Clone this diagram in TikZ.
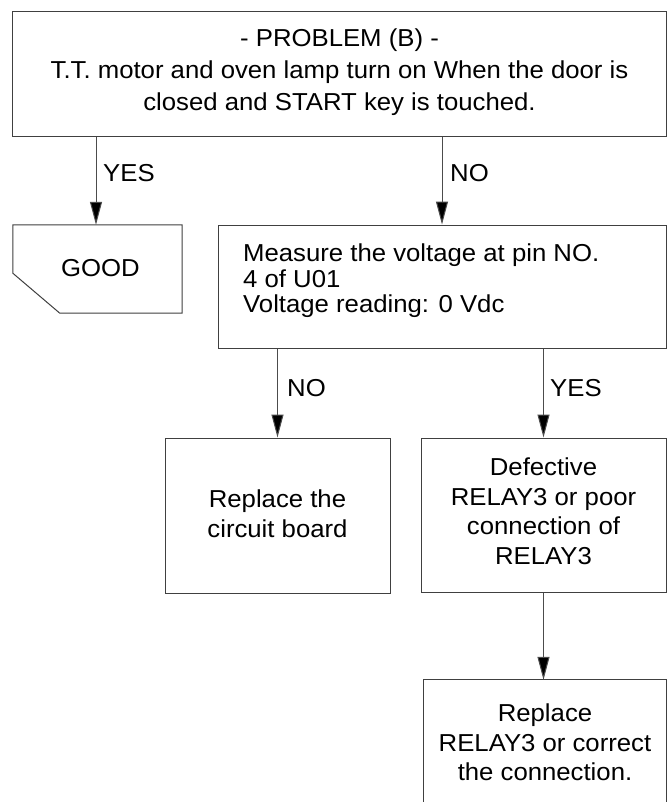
\documentclass[tikz,border=0pt]{standalone}
\usepackage{fontspec}
\setmainfont[FakeStretch=1.05]{Liberation Sans}
\usetikzlibrary{arrows.meta}
\begin{document}
\begin{tikzpicture}[x=1bp,y=-1bp,
  box/.style={draw=black!75, line width=1bp, inner sep=0pt, rectangle},
  frame/.style={inner sep=0pt, rectangle},
  txt/.style={inner sep=0pt, font=\fontsize{24.5bp}{29.5bp}\selectfont, align=center},
  lbl/.style={inner sep=0pt, font=\fontsize{24.5bp}{29.5bp}\selectfont},
  arr/.style={draw=black!70, line width=1bp, -{Triangle[length=23bp,width=12bp,fill=black]}}
]
\useasboundingbox[fill=white] (0,0) rectangle (667,802);

% boxes
\node[box, minimum width=653bp, minimum height=124bp] (top) at (339.5,74) {};
\node[frame, minimum width=169bp, minimum height=88bp] (good) at (97.5,269) {};
\node[box, minimum width=448bp, minimum height=123bp] (meas) at (442,286.5) {};
\node[box, minimum width=225bp, minimum height=155bp] (rcb) at (277.5,515.5) {};
\node[box, minimum width=245bp, minimum height=154bp] (def) at (543.5,515) {};
\node[frame, minimum width=242bp, minimum height=125bp] (fin) at (545,742.5) {};

% GOOD shape (cut corner)
\draw[draw=black!75, line width=1bp] (good.north west) -- (good.north east) -- (good.south east)
  -- ([xshift=47bp]good.south west) -- ([yshift=40bp]good.south west) -- cycle;
% final box open at the bottom
\draw[draw=black!75, line width=1bp] (fin.south west) |- (fin.north east) -- (fin.south east);

% texts
\node[txt, anchor=north, font=\fontsize{24.5bp}{32bp}\selectfont] (ttop) at (339.5,29)
  {- PROBLEM (B) -\\T.T. motor and oven lamp turn on When the door is\\closed and START key is touched.};
\node[txt, anchor=base] (tgood) at (100.5,276) {GOOD};
\node[txt, anchor=north west, align=left, font=\fontsize{24.5bp}{25.5bp}\selectfont] (tmeas) at (243,244)
  {Measure the voltage at pin NO.\\4 of U01\\Voltage reading: 0 Vdc};
\node[txt, anchor=north] (trcb) at (277.5,490) {Replace the\\circuit board};
\node[txt, anchor=north] (tdef) at (543.5,458) {Defective\\RELAY3 or poor\\connection of\\RELAY3};
\node[txt, anchor=north] (tfin) at (545,704) {Replace\\RELAY3 or correct\\the connection.};

% connectors
\coordinate (xa) at (96,0);
\draw[arr] (xa |- top.south) -- (xa |- good.north);
\draw[arr] (top.south -| meas.north) -- (meas.north);
\draw[arr] (meas.south -| rcb.north) -- (rcb.north);
\draw[arr] (meas.south -| def.north) -- (def.north);
\draw[arr] (def.south) -- (def.south |- fin.north);

% labels
\node[lbl, anchor=base west] (lyes1) at (103,181) {YES};
\node[lbl, anchor=base west] (lno1) at (450,181) {NO};
\node[lbl, anchor=base west] (lno2) at (287,396) {NO};
\node[lbl, anchor=base west] (lyes2) at (550,396) {YES};
\end{tikzpicture}
\end{document}
